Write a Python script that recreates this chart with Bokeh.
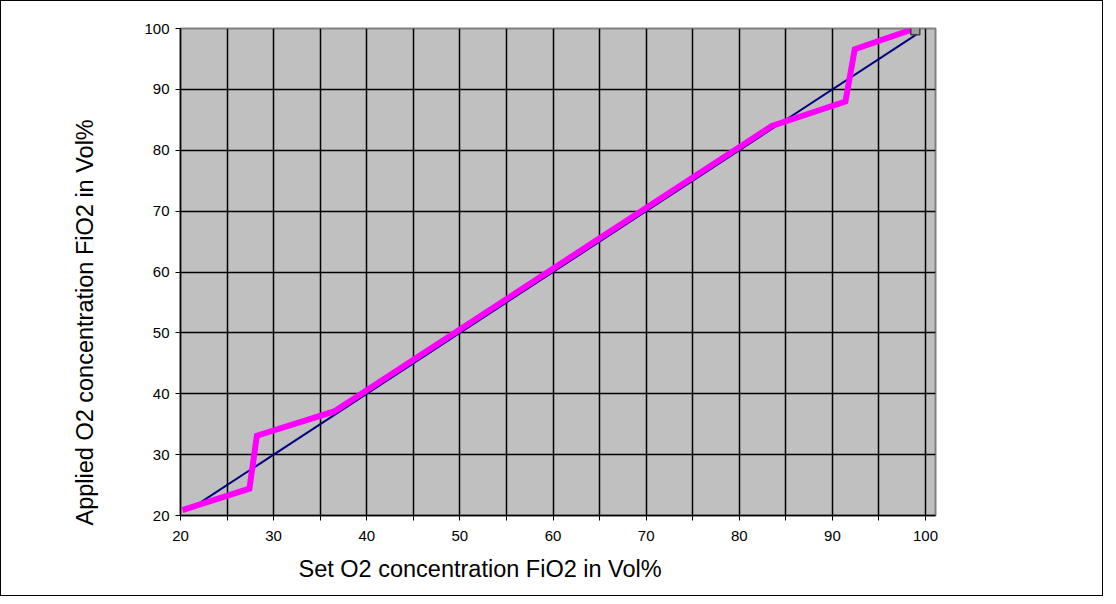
import math
from bokeh.plotting import figure
from bokeh.models import Range1d, FixedTicker, Title
from bokeh.embed import file_html
from bokeh.resources import INLINE

# Data
set_o2 = [20.2, 27.4, 28.2, 36.5, 83.5, 91.4, 92.4, 98.5]
applied_o2 = [20.9, 24.4, 33.1, 37.1, 84.0, 88.0, 96.6, 99.8]
ideal_x = [21, 99]
ideal_y = [21, 99]
end_marker_x = [98.9]
end_marker_y = [99.7]
x_major = [20, 30, 40, 50, 60, 70, 80, 90, 100]
x_minor = [25, 35, 45, 55, 65, 75, 85, 95]
y_major = [20, 30, 40, 50, 60, 70, 80, 90, 100]
x_title = "Set O2 concentration FiO2 in Vol%"
y_title = "Applied O2 concentration FiO2 in Vol%"

FONT = "Liberation Sans"

p = figure(width=1103, height=596, output_backend="svg", toolbar_location=None,
           x_range=Range1d(20, 101.07), y_range=Range1d(20, 100),
           min_border_left=179, min_border_right=169, min_border_top=27, min_border_bottom=82)
p.styles = {"border": "1.5px solid black", "box-sizing": "border-box"}
p.background_fill_color = "#C0C0C0"
p.border_fill_color = "white"
p.outline_line_color = "#808080"
p.outline_line_width = 2

p.xaxis.ticker = FixedTicker(ticks=x_major, minor_ticks=x_minor)
p.yaxis.ticker = FixedTicker(ticks=y_major)
for ax in (p.xaxis, p.yaxis):
    ax.axis_line_color = "black"
    ax.axis_line_width = 1.5
    ax.major_tick_line_color = "black"
    ax.major_tick_out = 5
    ax.major_tick_in = 0
    ax.minor_tick_line_color = "black"
    ax.minor_tick_out = 5
    ax.minor_tick_in = 0
    ax.major_label_text_font = FONT
    ax.major_label_text_font_size = "15px"
    ax.major_label_text_color = "black"
p.xaxis.major_label_standoff = 10
p.yaxis.major_label_standoff = 6
p.yaxis.minor_tick_line_color = None

p.xgrid.grid_line_color = "black"
p.xgrid.grid_line_width = 1.5
p.xgrid.minor_grid_line_color = "black"
p.xgrid.minor_grid_line_width = 1.5
p.ygrid.grid_line_color = "black"
p.ygrid.grid_line_width = 1.5

p.line(ideal_x, ideal_y, line_color="#000080", line_width=2)
p.line(set_o2, applied_o2, line_color="#FF00FF", line_width=6, line_join="miter")
p.scatter(end_marker_x, end_marker_y, marker="square", size=9,
          fill_color="#A0A0A0", line_color="#404040", line_width=1.5)

xt = Title(text=x_title, align="left", offset=118, text_font=FONT, text_font_size="23.5px",
           text_font_style="normal", text_color="black", standoff=20)
p.add_layout(xt, "below")
yt = Title(text=y_title, align="left", offset=-10, text_font=FONT, text_font_size="23.5px",
           text_font_style="normal", text_color="black", standoff=88)
p.add_layout(yt, "left")

open("out.html", "w").write(file_html(p, INLINE))
